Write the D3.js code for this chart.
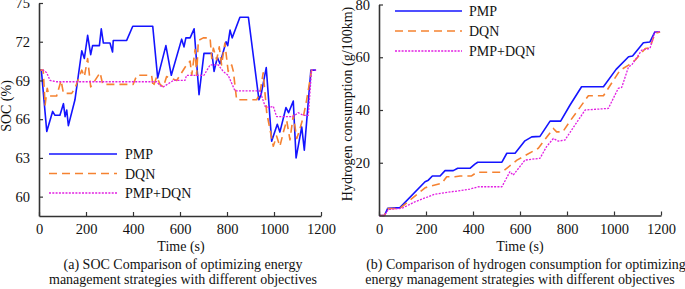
<!DOCTYPE html>
<html><head><meta charset="utf-8">
<script src="https://cdn.jsdelivr.net/npm/d3@7"></script>
<style>
body{margin:0;background:#fff;}
svg{display:block;font-family:"Liberation Serif","Times New Roman",serif;}
</style></head>
<body><svg id="c" width="685" height="289"></svg>
<script>
// ---------- DATA ----------
const seriesNames = ["PMP", "DQN", "PMP+DQN"];
const xTicks = [0, 200, 400, 600, 800, 1000, 1200];
const socTicks = [60, 63, 66, 69, 72, 75];
const h2Ticks = [20, 40, 60, 80];

// (a) SOC (%)
const pmpSocT = [0,10,33,58,68,89,104,111,118,125,153,182,193,207,220,228,257,265,274,302,313,316,373,399,484,505,540,563,607,617,625,643,660,681,702,736,745,759,770,796,803,813,822,855,891,936,945,967,990,1014,1025,1051,1062,1082,1094,1118,1129,1157,1179];
const pmpSoc  = [69.8,69.8,65.05,66.6,66.3,66.3,67.2,66.2,66.7,65.5,67.5,71.3,70.7,72.5,71.0,71.7,71.7,73.0,71.9,71.9,71.2,72.1,72.1,73.2,73.2,69.2,71.7,69.4,72.2,71.6,72.3,72.3,73.0,67.9,71.1,71.1,69.7,70.8,70.3,72.0,71.7,72.9,72.3,73.9,73.9,67.5,67.9,70.0,64.3,65.6,65.0,66.9,66.5,67.4,63.0,65.4,63.6,69.8,69.8];
const dqnSocT = [0,18,26,35,43,75,94,104,139,153,182,193,207,220,260,271,401,416,479,486,501,515,529,543,586,628,643,650,664,671,678,699,728,735,742,756,767,777,791,805,820,827,841,926,940,954,969,997,1011,1025,1040,1054,1068,1082,1097,1111,1125,1139,1160,1179];
const dqnSoc  = [69.8,69.8,67.1,68.4,67.8,67.8,69.0,68.0,68.0,68.4,69.8,69.3,70.7,68.5,69.6,68.7,68.7,69.4,69.4,68.5,69.3,68.7,68.5,69.3,69.0,70.2,70.5,69.4,71.4,69.4,72.1,72.3,72.3,70.7,71.5,70.6,71.6,70.2,71.9,69.7,70.2,69.7,67.5,67.5,68.0,69.6,66.5,63.9,64.7,63.9,65.0,65.9,64.4,66.3,64.5,65.3,66.2,67.5,69.8,69.8];
const mixSocT = [0,18,33,47,75,501,515,529,572,621,628,702,728,763,784,805,834,940,962,980,997,1011,1082,1103,1125,1146,1160,1179];
const mixSoc  = [69.8,69.8,69.6,69.0,68.9,68.9,68.6,68.5,69.0,69.0,69.4,69.4,70.2,70.2,69.7,69.4,68.2,68.2,67.0,66.9,67.0,66.2,66.2,66.5,66.3,66.3,69.8,69.8];

// (b) Hydrogen consumption (g/100km)
const pmpH2T = [0,23,37,89,196,210,227,260,281,316,335,387,408,420,523,544,579,621,650,685,728,773,813,862,955,1009,1062,1079,1125,1153,1174,1196];
const pmpH2  = [0,0,2.7,3.0,12.8,13.4,15.0,15.0,17.0,17.0,17.9,17.9,19.5,20.2,20.2,23.6,23.6,28.3,29.8,30.0,35.8,35.8,41.9,48.8,48.8,55.4,60.2,60.5,65.5,65.8,69.6,69.6];
const dqnH2T = [0,23,37,89,196,221,267,288,323,345,394,416,523,587,678,742,756,782,813,891,955,1026,1062,1090,1133,1153,1174,1196];
const dqnH2  = [0,0,2.6,2.7,10.5,11.2,12.2,14.7,14.7,15.0,15.0,16.4,16.4,21.0,25.5,33.0,31.7,31.7,35.8,45.4,45.4,55.1,57.0,58.9,63.3,63.6,69.0,69.6];
const mixH2T = [0,23,40,97,153,238,309,366,387,423,523,557,571,621,685,713,742,763,791,877,976,1018,1033,1062,1075,1118,1153,1174,1196];
const mixH2  = [0,0,2.3,2.7,5.2,8.1,9.0,9.7,10.0,10.9,10.9,16.6,15.3,21.0,21.7,26.1,29.2,28.2,28.6,40.0,40.6,48.2,48.6,56.4,57.0,62.7,63.3,69.6,69.6];

const captionA = ["(a) SOC Comparison of optimizing energy", "management strategies with different objectives"];
const captionB = ["(b) Comparison of hydrogen consumption for optimizing", "energy management strategies with different objectives"];

// ---------- STYLE ----------
const colors = ["#1414ff", "#f58231", "#e21ee2"];
const dashes = [null, "8,5", "2,1.3"];
const widths = [1.6, 1.6, 1.3];
const FS = 14;
const TFS = 14.5;

const svg = d3.select("#c");

function panel(opt){
  const g = svg.append("g");
  const x = d3.scaleLinear().domain([0,1200]).range(opt.xr);
  const y = d3.scaleLinear().domain(opt.yd).range(opt.yr);
  const line = d3.line().x(d=>x(d[0])).y(d=>y(d[1]));
  opt.series.forEach((s,i)=>{
    const pts = s[0].map((t,k)=>[t,s[1][k]]);
    g.append("path").attr("d", line(pts)).attr("fill","none")
      .attr("stroke", colors[i]).attr("stroke-width", widths[i])
      .attr("stroke-dasharray", dashes[i]).attr("stroke-linejoin","round");
  });
  const ax = g.append("g").attr("transform",`translate(0,${opt.yr[0]})`)
    .call(d3.axisBottom(x).tickValues(xTicks).tickFormat(d3.format("d")).tickSizeInner(-4).tickSizeOuter(0).tickPadding(8));
  const ay = g.append("g").attr("transform",`translate(${opt.xr[0]},0)`)
    .call(d3.axisLeft(y).tickValues(opt.yt).tickFormat(d3.format("d")).tickSizeInner(-4).tickSizeOuter(0).tickPadding(9));
  [ax,ay].forEach(a=>{
    a.selectAll("text").attr("font-size",TFS).attr("font-family","Liberation Serif").attr("fill","#111");
    a.selectAll("line").attr("stroke","#333").attr("stroke-width",1.2);
    a.select(".domain").attr("stroke","#333").attr("stroke-width",1.6);
  });
  // legend
  seriesNames.forEach((n,i)=>{
    const ly = opt.leg[1] + i*opt.leg[4];
    g.append("line").attr("x1",opt.leg[0]).attr("x2",opt.leg[2]).attr("y1",ly).attr("y2",ly)
      .attr("stroke",colors[i]).attr("stroke-width",widths[i]).attr("stroke-dasharray",dashes[i]);
    g.append("text").attr("x",opt.leg[3]).attr("y",ly+5).attr("font-size",FS).attr("fill","#111").text(n);
  });
  // y label
  g.append("text").attr("transform",`translate(${opt.ylab[0]},${opt.ylab[1]}) rotate(-90)`)
    .attr("text-anchor","middle").attr("font-size",FS).attr("fill","#111").text(opt.ylab[2]);
  g.append("text").attr("x",opt.xlab[0]).attr("y",251).attr("text-anchor","middle")
    .attr("font-size",FS).attr("fill","#111").text("Time (s)");
  opt.cap.forEach((c,i)=>{
    g.append("text").attr("x",opt.capx[i]).attr("y",269+i*15).attr("text-anchor","middle")
      .attr("font-size",FS).attr("fill","#111").text(c);
  });
}

panel({xr:[39,321], yd:[58.5,75], yr:[216,3], yt:socTicks,
  series:[[pmpSocT,pmpSoc],[dqnSocT,dqnSoc],[mixSocT,mixSoc]],
  leg:[49,154,117,125,19.5], ylab:[11,106,"SOC (%)"], xlab:[181], cap:captionA, capx:[183,183]});
panel({xr:[379,661], yd:[0,80], yr:[215.5,4.5], yt:h2Ticks,
  series:[[pmpH2T,pmpH2],[dqnH2T,dqnH2],[mixH2T,mixH2]],
  leg:[395,11,462,469,20], ylab:[352,104,"Hydrogen consumption (g/100km)"], xlab:[520], cap:captionB, capx:[526,520]});
</script></body></html>
